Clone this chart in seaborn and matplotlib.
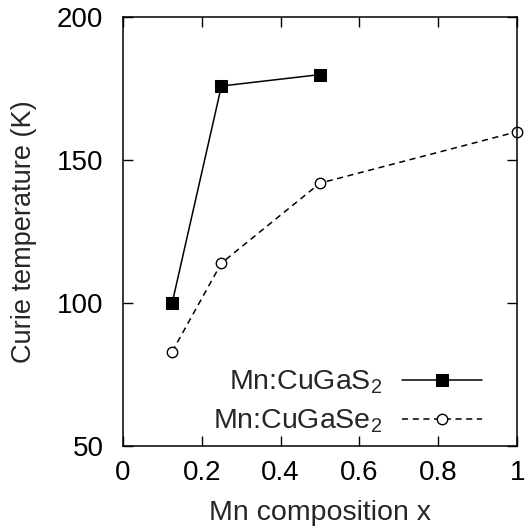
import matplotlib
matplotlib.use('Agg')
import matplotlib.pyplot as plt
import seaborn as sns
import pandas as pd

# data
x_s = [0.125, 0.25, 0.5]
tc_s = [100, 176, 180]
x_se = [0.125, 0.25, 0.5, 1.0]
tc_se = [83, 114, 142, 160]
label_s = 'Mn:CuGaS$_2$'
label_se = 'Mn:CuGaSe$_2$'
xticks = [0, 0.2, 0.4, 0.6, 0.8, 1]
xticklabels = ['0', '0.2', '0.4', '0.6', '0.8', '1']
yticks = [50, 100, 150, 200]

sns.set_style('ticks')
plt.rcParams['font.family'] = ['Liberation Sans', 'DejaVu Sans']
plt.rcParams['mathtext.default'] = 'regular'

df_s = pd.DataFrame({'x': x_s, 'tc': tc_s})
df_se = pd.DataFrame({'x': x_se, 'tc': tc_se})

fig = plt.figure(figsize=(5.25, 5.29), dpi=100)
ax = fig.add_axes([0.234, 0.157, 0.751, 0.810])

sns.lineplot(data=df_s, x='x', y='tc', ax=ax, color='black', lw=1.1,
             marker='s', markersize=9, markerfacecolor='black',
             markeredgecolor='black', label=label_s, clip_on=False)
sns.lineplot(data=df_se, x='x', y='tc', ax=ax, color='black', lw=1.1,
             linestyle=(0, (4, 3)), marker='o', markersize=7.5,
             markerfacecolor='white', markeredgecolor='black',
             markeredgewidth=1.0, label=label_se, clip_on=False)

ax.set_xlim(0, 1)
ax.set_ylim(50, 200)
ax.set_xticks(xticks)
ax.set_xticklabels(xticklabels)
ax.set_yticks(yticks)
ax.tick_params(direction='in', top=True, right=True, length=7, width=1,
               labelsize=20, colors='black')
ax.tick_params(axis='x', pad=10)
ax.tick_params(axis='y', pad=14)
for sp in ax.spines.values():
    sp.set_visible(True)
    sp.set_linewidth(1.1)
    sp.set_color('black')

ax.set_xlabel('Mn composition x', fontsize=20.5, labelpad=10)
ax.set_ylabel('Curie temperature (K)', fontsize=19.5, labelpad=14)

ax.legend(loc='lower right', frameon=False, markerfirst=False, fontsize=20.5,
          handlelength=2.8, numpoints=1, labelspacing=0.4,
          handletextpad=0.7, bbox_to_anchor=(0.975, -0.035))

fig.savefig('out.png', dpi=100)
